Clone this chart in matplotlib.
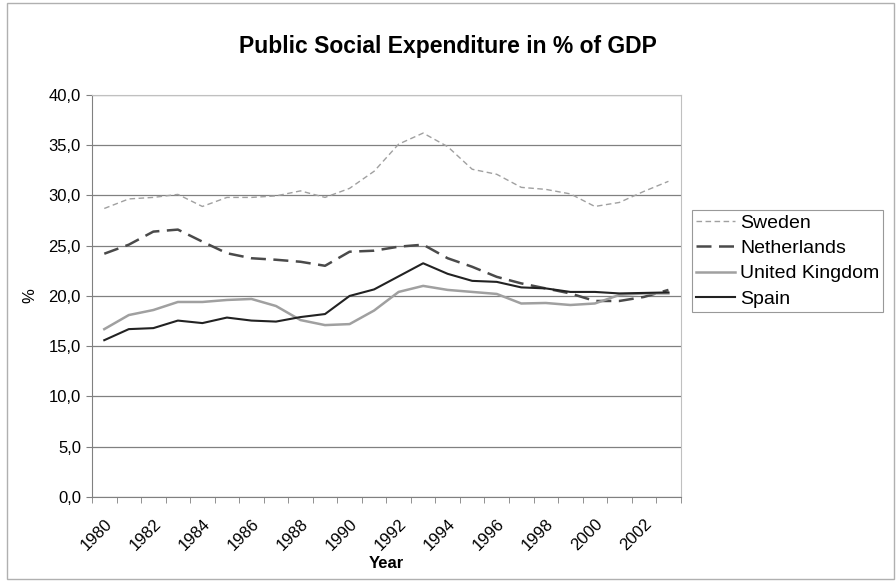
import numpy as np
import matplotlib.pyplot as plt
from matplotlib.patches import Rectangle

plt.rcParams['font.family'] = ['Liberation Sans', 'DejaVu Sans']

years = list(range(1980, 2004))
sweden = [28.7, 29.65, 29.8, 30.1, 28.9, 29.8, 29.8, 29.95, 30.45, 29.8, 30.7, 32.4,
          35.1, 36.2, 34.85, 32.6, 32.1, 30.8, 30.6, 30.15, 28.9, 29.3, 30.4, 31.4]
netherlands = [24.2, 25.1, 26.4, 26.6, 25.4, 24.25, 23.75, 23.6, 23.4, 23.0, 24.4, 24.5,
               24.9, 25.1, 23.75, 22.9, 21.9, 21.25, 20.75, 20.25, 19.5, 19.5, 19.9, 20.6]
uk = [16.7, 18.1, 18.6, 19.4, 19.4, 19.6, 19.7, 19.0, 17.6, 17.1, 17.2, 18.55,
      20.4, 21.0, 20.6, 20.4, 20.2, 19.25, 19.3, 19.1, 19.25, 20.1, 20.25, 20.25]
spain = [15.6, 16.7, 16.8, 17.55, 17.3, 17.85, 17.55, 17.45, 17.9, 18.2, 20.0, 20.65,
         21.95, 23.25, 22.2, 21.5, 21.4, 20.85, 20.75, 20.4, 20.4, 20.25, 20.3, 20.35]

fig = plt.figure(figsize=(8.96, 5.82), dpi=100)
fig.patches.append(Rectangle((0.008, 0.005), 0.99, 0.99, transform=fig.transFigure,
                             fill=False, edgecolor='#b0b0b0', lw=1))
ax = fig.add_axes([0.1027, 0.146, 0.657, 0.691])

x = np.arange(len(years))
ax.plot(x, sweden, color='#a0a0a0', lw=1, dashes=(4, 2.5), label='Sweden')
ax.plot(x, netherlands, color='#4a4a4a', lw=1.8, dashes=(6, 3), label='Netherlands')
ax.plot(x, uk, color='#a0a0a0', lw=1.8, label='United Kingdom')
ax.plot(x, spain, color='#222222', lw=1.5, label='Spain')

ax.set_xlim(-0.5, len(years) - 0.5)
ax.set_ylim(0, 40)
ax.set_yticks(np.arange(0, 41, 5))
ax.set_yticklabels(['{:.1f}'.format(v).replace('.', ',') for v in np.arange(0, 41, 5)],
                   fontsize=12)
ax.set_xticks(x[::2])
ax.set_xticklabels([str(y) for y in years[::2]], rotation=45, ha='right',
                   rotation_mode='anchor', fontsize=12)
ax.set_xticks(np.arange(-0.5, len(years), 1), minor=True)
ax.tick_params(axis='x', which='major', length=0, pad=14)
ax.tick_params(axis='x', which='minor', length=4, direction='out', color='#808080')
ax.tick_params(axis='y', length=4, direction='out', color='#808080', pad=4)
ax.grid(axis='y', color='#808080', lw=0.9)
ax.set_axisbelow(True)
for s in ['top', 'right']:
    ax.spines[s].set_color('#c0c0c0')
for s in ['left', 'bottom']:
    ax.spines[s].set_color('#808080')

ax.set_xlabel('Year', fontsize=12, fontweight='bold', labelpad=2)
ax.set_ylabel('%', fontsize=12, labelpad=8)
fig.suptitle('Public Social Expenditure in % of GDP', fontsize=16.5, fontweight='bold',
             y=0.94)

leg = ax.legend(loc='center left', bbox_to_anchor=(1.02, 0.587), fontsize=14,
                frameon=True, fancybox=False, edgecolor='#808080', handlelength=2.0,
                handletextpad=0.25, borderpad=0.2, labelspacing=0.4, borderaxespad=0)
leg.get_frame().set_linewidth(0.8)

plt.savefig('out.png', dpi=100)
